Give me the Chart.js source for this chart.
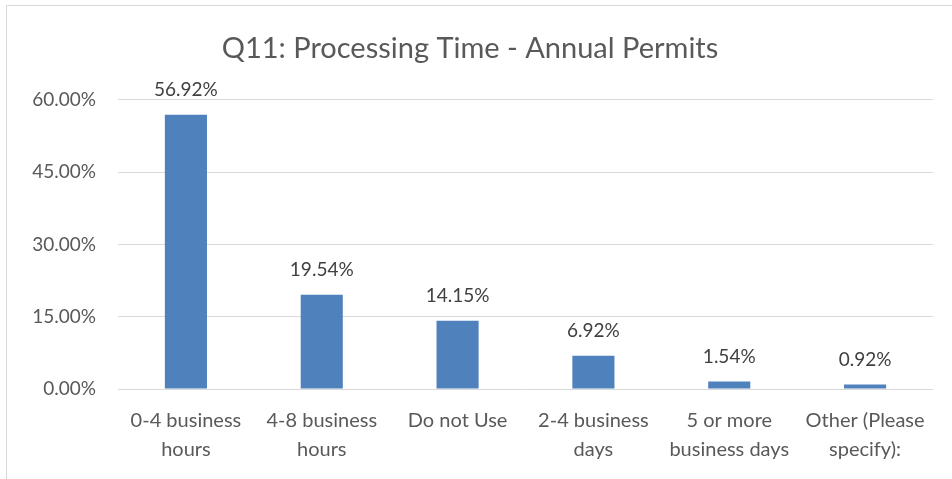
<!DOCTYPE html>
<html>
<head>
<meta charset="utf-8">
<script src="https://cdn.jsdelivr.net/npm/chart.js@4.4.1/dist/chart.umd.min.js"></script>
<style>
  html, body { margin: 0; padding: 0; background: #fff; overflow: hidden; }
  #box {
    position: absolute; left: 6px; top: 5px;
    width: 956px; height: 480px;
    border: 1px solid #d9d9d9;
  }
</style>
</head>
<body>
<div id="box"><canvas id="chart"></canvas></div>
<script>
const categories = [
  ['0-4 business', 'hours'],
  ['4-8 business', 'hours'],
  ['Do not Use'],
  ['2-4 business', 'days'],
  ['5 or more', 'business days'],
  ['Other (Please', 'specify):']
];
const percents = [56.92, 19.54, 14.15, 6.92, 1.54, 0.92];
const yTicks = [0, 15, 30, 45, 60];

const FONT = 'Lato, "Open Sans", sans-serif';

// labels above each bar, like Excel's data labels
const barLabels = {
  id: 'barLabels',
  afterDatasetsDraw(chart) {
    const ctx = chart.ctx;
    const meta = chart.getDatasetMeta(0);
    ctx.save();
    ctx.font = '19px ' + FONT;
    ctx.fillStyle = '#404040';
    ctx.textAlign = 'center';
    ctx.textBaseline = 'middle';
    meta.data.forEach((bar, i) => {
      ctx.fillText(percents[i].toFixed(2) + '%', bar.x, bar.y - 25);
    });
    ctx.restore();
  }
};

const canvas = document.getElementById('chart');
canvas.width = 956;
canvas.height = 480;

new Chart(canvas, {
  type: 'bar',
  data: {
    labels: categories,
    datasets: [{
      data: percents,
      backgroundColor: '#4f81bd',
      borderWidth: 0,
      categoryPercentage: 1,
      barPercentage: 0.31
    }]
  },
  options: {
    responsive: false,
    animation: false,
    layout: { padding: { left: 0, right: 30, top: 0, bottom: 0 } },
    plugins: {
      legend: { display: false },
      tooltip: { enabled: false },
      title: {
        display: true,
        text: 'Q11: Processing Time - Annual Permits',
        color: '#595959',
        font: { family: FONT, size: 29, weight: 'normal' },
        padding: { top: 25, bottom: 34 }
      }
    },
    scales: {
      x: {
        grid: { display: false },
        border: { display: false },
        ticks: {
          color: '#595959',
          font: { family: FONT, size: 20, lineHeight: 1.45 },
          padding: 9,
          maxRotation: 0,
          autoSkip: false
        },
        afterFit(scale) { scale.height = 97; }
      },
      y: {
        min: 0,
        max: 60,
        afterBuildTicks(scale) {
          scale.ticks = yTicks.map(v => ({ value: v }));
        },
        grid: { color: '#d9d9d9', lineWidth: 1, drawTicks: false },
        border: { display: false },
        ticks: {
          color: '#595959',
          font: { family: FONT, size: 19 },
          padding: 22,
          callback: v => v.toFixed(2) + '%'
        },
        afterFit(scale) { scale.width = 111; }
      }
    }
  },
  plugins: [barLabels]
});
</script>
</body>
</html>
